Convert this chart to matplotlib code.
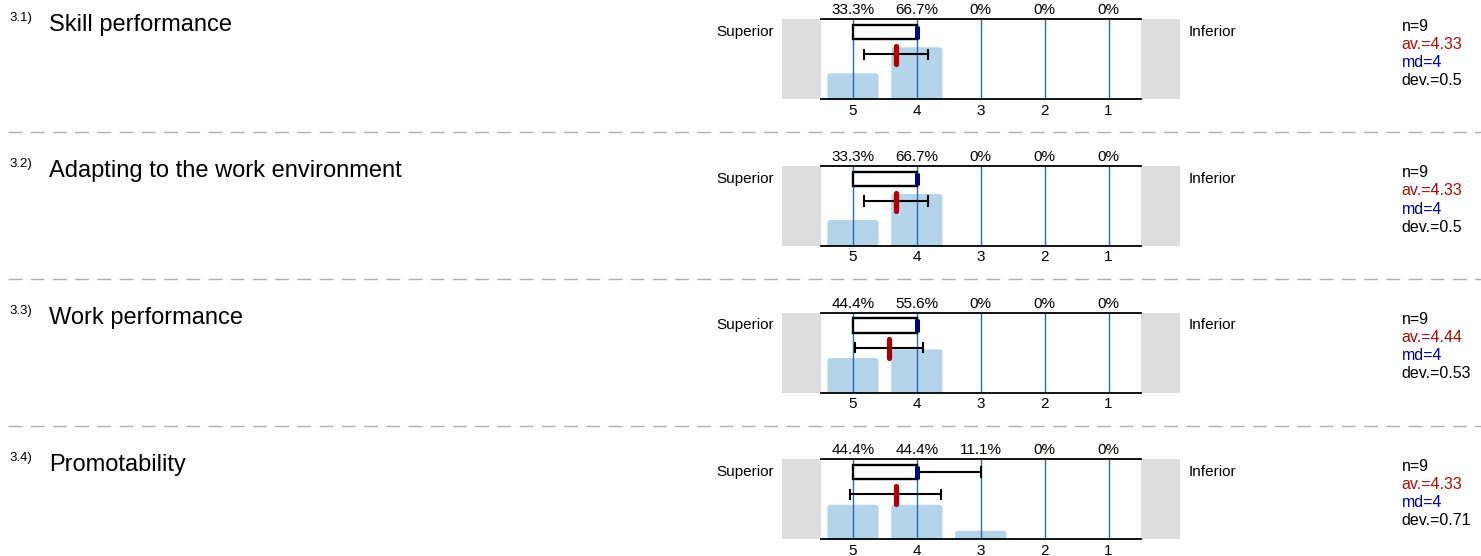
import matplotlib
matplotlib.use("Agg")
import matplotlib.pyplot as plt
from matplotlib.patches import Rectangle, FancyBboxPatch
from matplotlib.transforms import blended_transform_factory

plt.rcParams['font.family'] = ['Liberation Sans', 'DejaVu Sans']

# Survey items and their answer distributions (scale 5 = superior ... 1 = inferior)
item_nums = ["3.1)", "3.2)", "3.3)", "3.4)"]
item_titles = ["Skill performance", "Adapting to the work environment",
               "Work performance", "Promotability"]
scale = [5, 4, 3, 2, 1]
pct = [
    [33.3, 66.7, 0, 0, 0],
    [33.3, 66.7, 0, 0, 0],
    [44.4, 55.6, 0, 0, 0],
    [44.4, 44.4, 11.1, 0, 0],
]
n_resp = [9, 9, 9, 9]
mean = [4.33, 4.33, 4.44, 4.33]
median = [4, 4, 4, 4]
sd = [0.5, 0.5, 0.53, 0.71]
q_low = [4, 4, 4, 4]      # lower quartile
q_high = [5, 5, 5, 5]     # upper quartile
whisk_low = [4, 4, 4, 3]  # lowest answer outside the box
left_label = "Superior"
right_label = "Inferior"

W, H = 1481, 556
fig = plt.figure(figsize=(W / 100, H / 100), dpi=100)

# layout in pixels
row_step = 146.7
panel_top = 19.3
panel_h = 80.0
ax_l, ax_w = 821, 319.5
gray_w = 39.0
ymax = 102.6

bar_col = '#b4d4eb'
grid_col = '#1f6cbf'
red = '#aa0000'
navy = '#000080'


def fy(px):
    return 1 - px / H


def fx(px):
    return px / W


for i in range(len(item_titles)):
    off = i * row_step
    top = panel_top + off

    # heading
    fig.text(fx(9), fy(20.7 + off), item_nums[i], fontsize=9.5, va='baseline')
    fig.text(fx(49), fy(30.7 + off), item_titles[i], fontsize=17, va='baseline')

    # separator between items
    if i > 0:
        fig.add_artist(plt.Line2D([fx(8), 1], [fy(top - 33.7)] * 2, color='#b0b0b0',
                                  lw=1.0, dashes=(10, 6), transform=fig.transFigure))

    ax = fig.add_axes([fx(ax_l), fy(top + panel_h), ax_w / W, panel_h / H])
    ax.set_xlim(5.5, 0.5)
    ax.set_ylim(0, ymax)
    for s in ['left', 'right']:
        ax.spines[s].set_visible(False)
    for s in ['top', 'bottom']:
        ax.spines[s].set_linewidth(1.3)
    ax.set_yticks([])
    ax.set_xticks(scale)
    ax.set_xticklabels([str(v) for v in scale], fontsize=11)
    ax.tick_params(axis='x', length=0, pad=3.2)

    # gray end blocks
    gw = gray_w / ax_w
    for x0 in (-gw, 1):
        ax.add_patch(Rectangle((x0, 0), gw, 1, transform=ax.transAxes, clip_on=False,
                               facecolor='#dddddd', edgecolor='none', zorder=0))
    ax.text(-0.147, 1 - 16.7 / panel_h, left_label, transform=ax.transAxes, ha='right',
            va='baseline', fontsize=11)
    ax.text(1.152, 1 - 16.7 / panel_h, right_label, transform=ax.transAxes, ha='left',
            va='baseline', fontsize=11)

    tr = blended_transform_factory(ax.transData, ax.transAxes)

    # distribution bars with rounded tops
    rad_y = 3.2 * ymax / panel_h
    for v, p in zip(scale, pct[i]):
        if p > 0:
            ax.add_patch(FancyBboxPatch((v - 0.4, -5), 0.8, p + 5,
                                        boxstyle="round,pad=0,rounding_size=0.05",
                                        mutation_aspect=rad_y / 0.05,
                                        facecolor=bar_col, edgecolor='none', zorder=1))
        ax.text(v, 1 + 5 / panel_h, f"{p:g}%", transform=tr,
                ha='center', va='baseline', fontsize=11)

    ax.vlines(scale, 0, ymax, color=grid_col, lw=1.0, zorder=2)

    b0, b1 = 1 - 20 / panel_h, 1 - 5.7 / panel_h
    bc = (b0 + b1) / 2
    # whisker outside the box
    if whisk_low[i] < q_low[i]:
        ax.plot([whisk_low[i], q_low[i]], [bc, bc], color='black', lw=1.5, transform=tr, zorder=3)
        ax.plot([whisk_low[i]] * 2, [bc - 0.06, bc + 0.06], color='black', lw=1.5,
                transform=tr, zorder=3)
    # quartile box and median
    ax.add_patch(Rectangle((q_low[i], b0), q_high[i] - q_low[i], b1 - b0, transform=tr,
                           facecolor='white', edgecolor='black', lw=1.7, zorder=4))
    ax.plot([median[i]] * 2, [b0 + 0.01, b1 - 0.01], color=navy, lw=3.6, transform=tr,
            zorder=5, solid_capstyle='butt')

    # mean +/- standard deviation
    ey = 1 - 35 / panel_h
    ax.plot([mean[i] - sd[i], mean[i] + sd[i]], [ey, ey], color='black', lw=1.5, transform=tr, zorder=5)
    for e in (mean[i] - sd[i], mean[i] + sd[i]):
        ax.plot([e, e], [ey - 4.7 / panel_h, ey + 4.7 / panel_h], color='black', lw=1.5,
                transform=tr, zorder=5)
    ax.plot([mean[i]] * 2, [1 - 26.6 / panel_h, 1 - 44.8 / panel_h], color=red, lw=3.8,
            solid_capstyle='round', transform=tr, zorder=6)

    # summary statistics
    sx = fx(1401.5)
    stats = [(f"n={n_resp[i]}", 'black'), (f"av.={mean[i]:g}", '#991111'),
             (f"md={median[i]:g}", '#00008b'), (f"dev.={sd[i]:g}", 'black')]
    for k, (txt, col) in enumerate(stats):
        fig.text(sx, fy(30.7 + k * 18.1 + off), txt, color=col, fontsize=11.5, va='baseline')

fig.savefig("out.png", dpi=100)
